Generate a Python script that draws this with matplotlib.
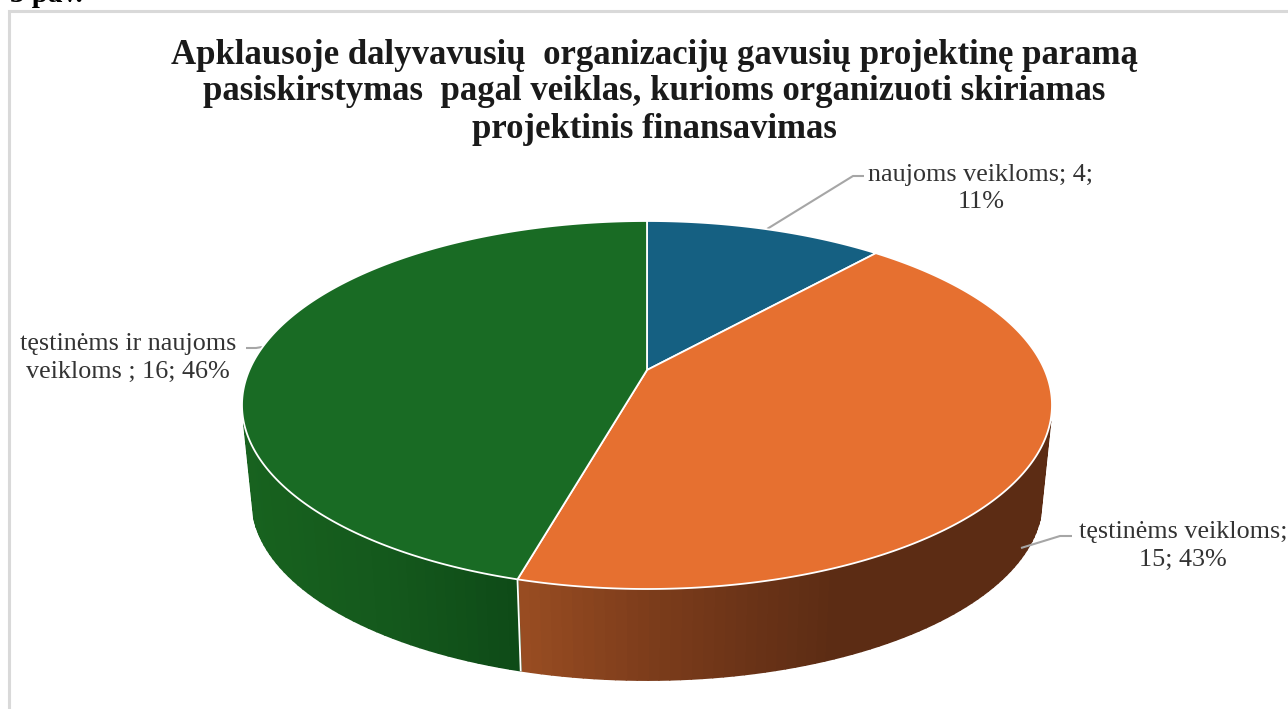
import numpy as np
import matplotlib
matplotlib.use("Agg")
import matplotlib.pyplot as plt
from matplotlib.collections import PolyCollection
from matplotlib.patches import Polygon

# ---- data ----
categories = ["naujoms veikloms", "tęstinėms veikloms", "tęstinėms ir naujoms veikloms"]
values = [4, 15, 16]
percents = ["11%", "43%", "46%"]
label_lines = [
    "naujoms veikloms; 4;\n11%",
    "tęstinėms veikloms;\n15; 43%",
    "tęstinėms ir naujoms\nveikloms ; 16; 46%",
]
title_lines = [
    "Apklausoje dalyvavusių  organizacijų gavusių projektinę paramą",
    "pasiskirstymas  pagal veiklas, kurioms organizuoti skiriamas",
    "projektinis finansavimas",
]
caption = "3 pav."

# ---- style ----
top_colors = ["#156082", "#E67030", "#196B24"]
wall_stops = [
    ([242, 1052], ["#0D3A4E", "#0D3A4E"]),
    ([521, 650, 830, 1052], ["#994D22", "#7C3C1B", "#5C2C14", "#5C2C14"]),
    ([242, 400, 521], ["#18631F", "#14581C", "#0E4A17"]),
]
CX, APEX_Y, FAR_Y, NEAR_Y, RX_MAX = 647.0, 370.0, 221.0, 589.0, 405.0
c = ((NEAR_Y - APEX_Y) - (APEX_Y - FAR_Y)) / (NEAR_Y - FAR_Y)
a = FAR_Y * c + FAR_Y - APEX_Y
R = RX_MAX * np.sqrt(1 - c * c)
VP_Y, S = 4228.0, 0.975
WALL_MIN_Y = 420.0


def rim(theta):
    """Clockwise angle from 12 o'clock on the pie -> pixel position on the top rim."""
    u, v = np.sin(theta), np.cos(theta)
    d = 1 + c * v
    return CX + R * u / d, (a * v + APEX_Y) / d


def lower(x, y):
    return CX + S * (x - CX), VP_Y - S * (VP_Y - y)


def hex2rgb(h):
    return np.array(matplotlib.colors.to_rgb(h))


fig = plt.figure(figsize=(12.88, 7.09), dpi=100, facecolor="white")
ax = fig.add_axes([0, 0, 1, 1])
ax.set_xlim(0, 1288)
ax.set_ylim(709, 0)
ax.axis("off")

# frame of the chart
ax.plot([9.5, 9.5, 1288], [709, 10.5, 10.5], color="#D9D9D9", lw=2.2, solid_joinstyle="miter", zorder=1)

edges = np.concatenate([[0], np.cumsum(values)]) / np.sum(values) * 2 * np.pi

# side wall (only the part that is in front of the top face)
for i in range(len(values)):
    th = np.linspace(edges[i], edges[i + 1], 120)
    x, y = rim(th)
    xb, yb = lower(x, y)
    quads, cols = [], []
    xs, stops = wall_stops[i]
    rgb = np.array([hex2rgb(h) for h in stops])
    for j in range(len(th) - 1):
        if y[j] < WALL_MIN_Y or y[j + 1] < WALL_MIN_Y:
            continue
        quads.append([(x[j], y[j]), (x[j + 1], y[j + 1]), (xb[j + 1], yb[j + 1]), (xb[j], yb[j])])
        xm = 0.5 * (xb[j] + xb[j + 1])
        cols.append([np.interp(xm, xs, rgb[:, k]) for k in range(3)])
    if quads:
        ax.add_collection(PolyCollection(quads, facecolors=cols, edgecolors=cols, linewidths=1.4, zorder=2))

# separators on the wall
for e in edges[:-1]:
    x0, y0 = rim(e)
    if y0 > 405:
        x1, y1 = lower(x0, y0)
        ax.plot([x0, x1], [y0, y1], color="white", lw=1.3, zorder=3)

# top face
for i in range(len(values)):
    th = np.linspace(edges[i], edges[i + 1], 300)
    x, y = rim(th)
    pts = np.column_stack([np.r_[CX, x], np.r_[APEX_Y, y]])
    ax.add_patch(Polygon(pts, closed=True, facecolor=top_colors[i], edgecolor="white", lw=1.3, zorder=4,
                         joinstyle="round"))

# leader lines
leaders = [
    ([767, 853, 864], [229, 176, 176]),
    ([1021, 1060, 1072], [548, 536, 536]),
    ([262, 256, 246], [347, 348, 348]),
]
for lx, ly in leaders:
    ax.plot(lx, ly, color="#A6A6A6", lw=1.5, zorder=3, solid_capstyle="butt")

# data labels
label_pos = [(981, 188.5), (1183, 546), (128, 358)]
for (lx, ly), t in zip(label_pos, label_lines):
    ax.text(lx, ly, t, ha="center", va="center", fontsize=18.8, family="Liberation Serif",
            color="#333333", linespacing=1.32, zorder=5, clip_on=False)

# title
title_y = [55, 91, 129]
for ty, t in zip(title_y, title_lines):
    ax.text(654, ty, t, ha="center", va="center", fontsize=25, family="Liberation Serif",
            fontweight="bold", color="#1a1a1a", zorder=5)

# caption, cut by the top of the image
ax.text(10, 2, caption, ha="left", va="baseline", fontsize=21, family="Liberation Serif",
        fontweight="bold", color="black", clip_on=True, zorder=5)

fig.savefig("out.png", dpi=100, facecolor="white")
